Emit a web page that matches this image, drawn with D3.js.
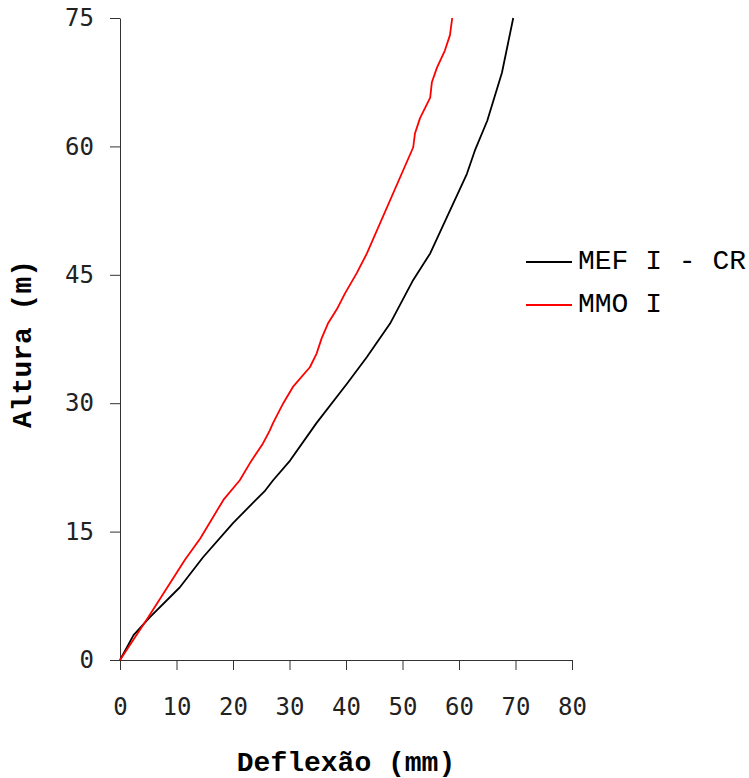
<!DOCTYPE html>
<html>
<head>
<meta charset="utf-8">
<script src="https://cdn.jsdelivr.net/npm/d3@7"></script>
<style>
  body { margin: 0; background: #fff; }
  svg { display: block; }
  .tick text { font-family: "DejaVu Sans Mono", monospace; font-size: 24px; fill: #222; }
  .domain, .tick line { stroke: #333; stroke-width: 1; }
  .title { font-family: "Liberation Mono", monospace; font-weight: bold; font-size: 28px; fill: #000; }
  .legend text { font-family: "Liberation Mono", monospace; font-size: 28px; fill: #000; }
</style>
</head>
<body>
<svg id="chart" width="749" height="778"></svg>
<script>
// Series values: deflection (mm) vs height (m)
const mefDeflexao = [0, 2.4, 5.3, 10.6, 14.7, 20.0, 25.7, 27.1, 30.1, 34.8, 40.2, 43.7, 47.8, 51.9, 54.9, 61.4, 62.8, 65.0, 67.6, 69.6];
const mefAltura   = [0, 2.9, 5.0,  8.5, 12.0, 16.0, 19.8, 21.0, 23.3, 27.7, 32.3, 35.4, 39.3, 44.4, 47.5, 56.8, 59.5, 63.0, 68.6, 75.0];

const mmoDeflexao = [0, 5.0, 11.5, 14.2, 18.3, 21.2, 23.0, 25.3, 26.5, 27.1, 28.9, 30.6, 33.6, 34.8, 35.7, 36.8, 38.4, 39.8, 41.9, 43.7, 51.9, 52.2, 53.1, 54.9, 55.2, 56.1, 57.5, 58.4, 58.8];
const mmoAltura   = [0, 5.0, 11.7, 14.2, 18.7, 21.0, 23.0, 25.3, 26.8, 27.7, 30.0, 31.9, 34.2, 35.8, 37.6, 39.3, 41.0, 42.8, 45.2, 47.5, 59.9, 61.5, 63.3, 65.7, 67.5, 69.2, 71.2, 73.0, 75.0];

const xTicks = [0, 10, 20, 30, 40, 50, 60, 70, 80];
const yTicks = [0, 15, 30, 45, 60, 75];

const seriesNames = ["MEF I - CR", "MMO I"];
const seriesColors = ["#000000", "#ff0000"];

const series = [
  { name: seriesNames[0], color: seriesColors[0], points: mefDeflexao.map((d, i) => ({ x: d, y: mefAltura[i] })) },
  { name: seriesNames[1], color: seriesColors[1], points: mmoDeflexao.map((d, i) => ({ x: d, y: mmoAltura[i] })) }
];

const svg = d3.select("#chart");

// Scales
const x = d3.scaleLinear().domain([0, 80]).range([120, 572]);
const y = d3.scaleLinear().domain([0, 75]).range([660, 18]);

// Axes
svg.append("g")
  .attr("transform", `translate(0,${y(0)})`)
  .call(d3.axisBottom(x).tickValues(xTicks).tickSize(10).tickSizeOuter(0).tickPadding(28).tickFormat(d3.format("d")))
  .call(g => g.selectAll(".tick text").attr("dy", "0.71em"));

svg.append("g")
  .attr("transform", `translate(${x(0)},0)`)
  .call(d3.axisLeft(y).tickValues(yTicks).tickSize(10).tickSizeOuter(0).tickPadding(16).tickFormat(d3.format("d")));

// Lines
const line = d3.line()
  .x(d => x(d.x))
  .y(d => y(d.y));

svg.append("g")
  .selectAll("path")
  .data(series)
  .enter()
  .append("path")
  .attr("fill", "none")
  .attr("stroke", d => d.color)
  .attr("stroke-width", 1.8)
  .attr("stroke-linejoin", "round")
  .attr("d", d => line(d.points));

// Axis titles
svg.append("text")
  .attr("class", "title")
  .attr("x", x(40))
  .attr("y", 771)
  .attr("text-anchor", "middle")
  .text("Deflexão (mm)");

svg.append("text")
  .attr("class", "title")
  .attr("transform", "translate(31,344) rotate(-90)")
  .attr("text-anchor", "middle")
  .text("Altura (m)");

// Legend
const legend = svg.append("g").attr("class", "legend");
const legendItems = legend.selectAll("g")
  .data(series)
  .enter()
  .append("g")
  .attr("transform", (d, i) => `translate(526,${262 + i * 43})`);

legendItems.append("line")
  .attr("x1", 0)
  .attr("x2", 46)
  .attr("stroke", d => d.color)
  .attr("stroke-width", 1.8);

legendItems.append("text")
  .attr("x", 52)
  .attr("y", 7)
  .text(d => d.name);
</script>
</body>
</html>
